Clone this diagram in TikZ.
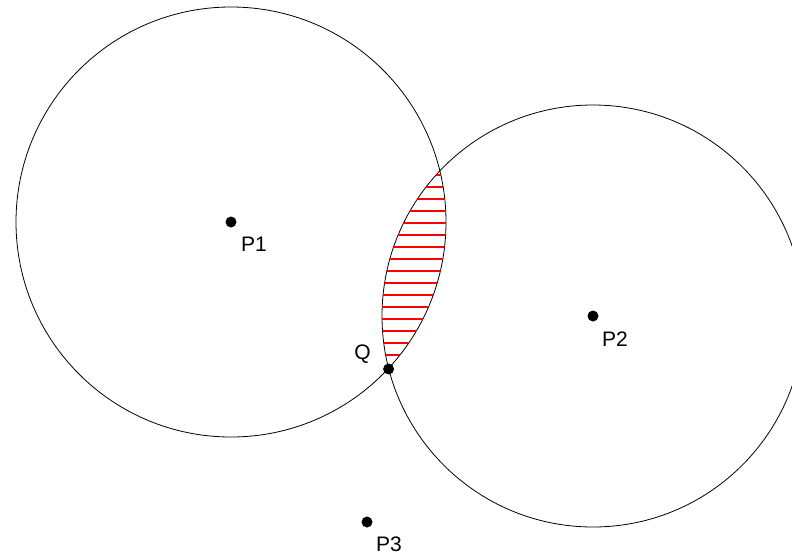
\documentclass[tikz,border=0pt]{standalone}
\usepackage{fontspec}
\setmainfont{Liberation Sans}
\tikzset{
  pt/.style={circle, fill=black, inner sep=0pt, minimum size=11pt},
  lbl/.style={inner sep=0pt, font=\fontsize{21}{25}\selectfont},
  hatch/.style={red, line width=1.1pt}
}
\begin{document}
\begin{tikzpicture}[x=1pt, y=-1pt]
  \useasboundingbox (0,0) rectangle (792,558);
  \node[pt] (p1) at (231,222) {};
  \node[pt] (p2) at (593,316) {};
  \node[pt] (p3) at (367,522) {};
  % the two circles
  \draw[line width=0.8pt] (p1.center) circle (215);
  \draw[line width=0.8pt] (p2.center) circle (211);
  % hatched lens
  \begin{scope}
    \clip (p1.center) circle (215);
    \clip (p2.center) circle (211);
    \foreach \y in {0,...,15}{
        \draw[hatch] (370, 175+12*\y) -- (460, 175+12*\y);
    }
  \end{scope}
  \node[pt] (q) at (388.6,369) {};
  \node[lbl, anchor=north west] (l1) at (241,237) {P1};
  \node[lbl, anchor=north west] (l2) at (602,332) {P2};
  \node[lbl, anchor=north west] (l3) at (376,537) {P3};
  \node[lbl, anchor=south east] (lq) at (371,364) {Q};
\end{tikzpicture}
\end{document}
